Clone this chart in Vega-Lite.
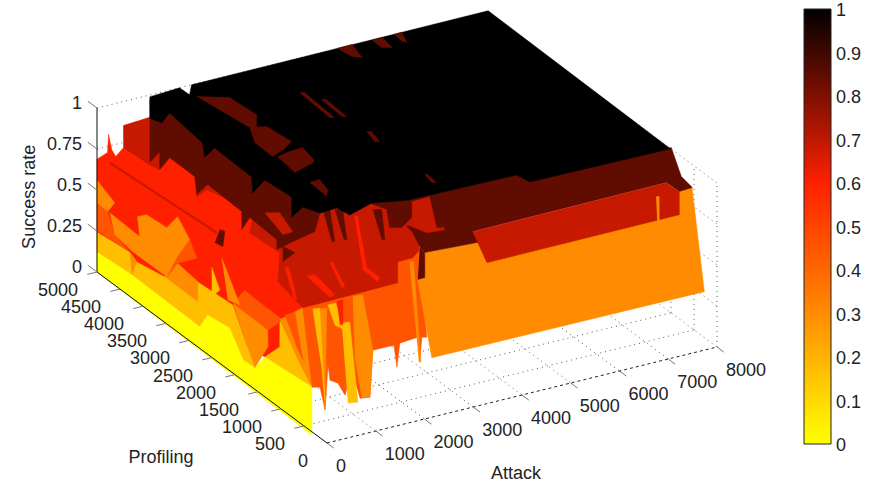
{"$schema":"https://vega.github.io/schema/vega-lite/v6.json","width":875,"height":484,"autosize":{"type":"fit","contains":"padding"},"padding":0,"background":"white","config":{"view":{"stroke":null},"font":"Liberation Sans"},
"encoding":{"x":{"field":"px","type":"quantitative","axis":null,"scale":{"domain":[0,875],"zero":false,"nice":false}},"y":{"field":"py","type":"quantitative","axis":null,"scale":{"domain":[484,0],"zero":false,"nice":false}}},
"layer":[
{"data":{"values":[
{"id":"a1","attack":[1000,1000],"profiling":[0,5000],"rate":[0,0]},{"id":"a2","attack":[2000,2000],"profiling":[0,5000],"rate":[0,0]},{"id":"a3","attack":[3000,3000],"profiling":[0,5000],"rate":[0,0]},{"id":"a4","attack":[4000,4000],"profiling":[0,5000],"rate":[0,0]},{"id":"a5","attack":[5000,5000],"profiling":[0,5000],"rate":[0,0]},{"id":"a6","attack":[6000,6000],"profiling":[0,5000],"rate":[0,0]},{"id":"a7","attack":[7000,7000],"profiling":[0,5000],"rate":[0,0]},{"id":"a8","attack":[8000,8000],"profiling":[0,5000],"rate":[0,0]},
{"id":"p1","attack":[0,8000],"profiling":[500,500],"rate":[0,0]},{"id":"p2","attack":[0,8000],"profiling":[1000,1000],"rate":[0,0]},{"id":"p3","attack":[0,8000],"profiling":[1500,1500],"rate":[0,0]},{"id":"p4","attack":[0,8000],"profiling":[2000,2000],"rate":[0,0]},{"id":"p5","attack":[0,8000],"profiling":[2500,2500],"rate":[0,0]},{"id":"p6","attack":[0,8000],"profiling":[3000,3000],"rate":[0,0]},
{"id":"v0","attack":[8000,8000],"profiling":[0,0],"rate":[0,1]},{"id":"v1","attack":[8000,8000],"profiling":[500,500],"rate":[0,1]},{"id":"v2","attack":[8000,8000],"profiling":[1000,1000],"rate":[0,1]},
{"id":"h1","attack":[8000,8000],"profiling":[0,5000],"rate":[0.25,0.25]},{"id":"h2","attack":[8000,8000],"profiling":[0,5000],"rate":[0.5,0.5]},{"id":"h3","attack":[8000,8000],"profiling":[0,5000],"rate":[0.75,0.75]},{"id":"h4","attack":[8000,8000],"profiling":[0,5000],"rate":[1,1]},
{"id":"b1","attack":[0,8000],"profiling":[5000,5000],"rate":[0.25,0.25]},{"id":"b2","attack":[0,8000],"profiling":[5000,5000],"rate":[0.5,0.5]},{"id":"b3","attack":[0,8000],"profiling":[5000,5000],"rate":[0.75,0.75]},{"id":"b4","attack":[0,8000],"profiling":[5000,5000],"rate":[1,1]}
]},
"transform":[{"flatten":["attack","profiling","rate"]},{"calculate":"327+0.04875*datum.attack-0.046*datum.profiling","as":"px"},{"calculate":"443-0.012*datum.attack-0.0342*datum.profiling-164*datum.rate","as":"py"}],
"mark":{"type":"line","stroke":"#333333","strokeWidth":1,"strokeDash":[1,4],"opacity":0.8},"encoding":{"detail":{"field":"id","type":"nominal"}}},

{"data":{"values":[
{"id":1,"rate":0.6,"attack":[288,601,990,726,643,952,1407,1973,2995,2366,386,-1100,-1617],"profiling":[5312,5407,5797,5451,5275,5430,5914,5950,2900,926,889,-843,3288]},
{"id":2,"rate":0.17,"attack":[246,340,241,362,836,766,829,290,-136,-155,307,237,-134,-105,-168],"profiling":[5268,4650,4392,3911,4154,3623,2928,2093,1423,1664,2438,2843,2622,4133,4828]},
{"id":3,"rate":0.17,"attack":[246,684,1243,723,349],"profiling":[1611,1750,2344,1356,697]},
{"id":4,"rate":0,"attack":[412,475,445,817,887,424,444,825,928,-65,-2],"profiling":[5444,4749,3238,3459,3054,2280,2039,2227,1313,257,5004]},
{"id":5,"rate":0.3,"attack":[888,689,394,412],"profiling":[5950,5347,5187,5444]},
{"id":6,"rate":0.45,"attack":[-106,-123,-491,-612,-665],"profiling":[4894,4637,4093,3638,4300]},
{"id":7,"rate":0.3,"attack":[405,370,753,933,972,1369,1078,541,-42,-49,26],"profiling":[5154,4464,4915,4910,4516,4699,4128,3819,3438,4172,4643]},
{"id":8,"rate":0.3,"attack":[-115,-194,-540],"profiling":[4166,3930,3671]},
{"id":9,"rate":0.3,"attack":[-73,402,331,-83],"profiling":[3449,3692,3161,2721]},
{"id":10,"rate":0.45,"attack":[-560,23,560,296,-101],"profiling":[2888,3269,3578,3144,3137]},
{"id":11,"rate":0.3,"attack":[436,416,64,-571,-145],"profiling":[2510,1727,1353,961,1631]},
{"id":12,"rate":0.45,"attack":[-82,372,350,336,-102],"profiling":[1960,2181,1896,1316,1177]},
{"id":13,"rate":0.17,"attack":[1293,940,672],"profiling":[3877,3328,3217]},
{"id":14,"rate":0.3,"attack":[1198,502,421],"profiling":[3559,2428,2603]},
{"id":15,"rate":0.3,"attack":[808,1410,-86,257],"profiling":[1882,2022,235,905]},
{"id":16,"rate":0.45,"attack":[471,687,-184,20],"profiling":[1415,1427,328,695]},
{"id":17,"rate":0.45,"attack":[893,3391,3895,2202,2125,1577,2063,1662,1119,1529,1101,82,-92,364,-261,-121,-182,98,-880,-481,-604],"profiling":[1472,2059,2116,164,191,-348,213,178,-334,166,170,-848,-816,-157,-669,-367,-258,83,-891,-358,-315]},
{"id":18,"rate":0.3,"attack":[1600,1780,-362,228],"profiling":[1897,1892,-341,330]},
{"id":19,"rate":0.3,"attack":[2408,2603,1619,600,456,1197],"profiling":[1994,1984,720,-298,-277,663]},
{"id":20,"rate":0.17,"attack":[2135,2279,746,571],"profiling":[1943,1922,119,151]},
{"id":21,"rate":0.17,"attack":[1978,2107,280,855],"profiling":[2408,2392,341,1017]},
{"id":22,"rate":0.17,"attack":[2292,2457,2037,1986],"profiling":[2415,2415,1773,1937]},
{"id":23,"rate":0.6,"attack":[1044,1178,660,614],"profiling":[892,904,354,370]},
{"id":24,"rate":0.3,"attack":[4010,4072,2110,2079],"profiling":[2456,2434,196,207]},
{"id":25,"rate":0.3,"attack":[4428,5548,5176,9141,9659,9900,7932,2362,3761],"profiling":[2573,2502,2018,2032,2582,2556,203,225,2017]},
{"id":26,"rate":0.69,"attack":[1097,1662,2788,4000,3088,2814,2501,2066,85,239,870,822,1178,1293,1050,751,1165,1142,740,690,641],"profiling":[5584,5620,2680,2401,1258,1120,1113,651,614,1321,1948,2550,2864,3116,3728,3628,4068,4632,4422,4586,5100]},
{"id":27,"rate":0.69,"attack":[136,335,293,94],"profiling":[4868,2750,2706,4824]},
{"id":50,"rate":0.6,"attack":[3081,3127,2210,2203,2089,2107],"profiling":[2665,2649,1478,1188,1111,1456]},
{"id":51,"rate":0.6,"attack":[1743,1789,1478,1411],"profiling":[1788,1772,1179,1173]},
{"id":52,"rate":0.6,"attack":[1100,1264,1158,1019],"profiling":[1604,1605,1057,1018]},
{"id":53,"rate":0.6,"attack":[947,1009,470,424],"profiling":[1921,1899,1152,1168]},
{"id":54,"rate":0.85,"attack":[1884,1992,1406,1360],"profiling":[2090,2052,1321,1337]},
{"id":55,"rate":0.85,"attack":[2069,2192,1633,1587],"profiling":[2025,1982,1300,1316]},
{"id":56,"rate":0.85,"attack":[2654,2793,2218,2172],"profiling":[1820,1771,1095,1111]},
{"id":28,"rate":0.85,"attack":[2826,2986,2927,2741],"profiling":[1262,1323,934,824]},
{"id":29,"rate":0.85,"attack":[3462,5596,5651,8542,8096,8037,7754,7741,3738,3685,2565,2612,2872],"profiling":[1829,1812,1588,1569,877,576,558,826,796,522,593,752,1246]},
{"id":30,"rate":0.69,"attack":[4277,8279,8293,7817,3851],"profiling":[1368,1398,1130,624,610]},
{"id":31,"rate":0.3,"attack":[9160,9206,8688,8657],"profiling":[2552,2536,1986,1997]},
{"id":32,"rate":0.69,"attack":[3959,4339,3887,3548,3421],"profiling":[2357,2370,1563,1594,1873]},
{"id":33,"rate":0.85,"attack":[3801,3965,3359,3267],"profiling":[1798,1799,1046,1078]},
{"id":34,"rate":0.85,"attack":[2612,2565,2047,1898],"profiling":[752,593,43,37]},
{"id":57,"rate":0.85,"attack":[2732,3524,3089,2728,2543,2870],"profiling":[1968,1895,1433,1267,1332,1744]},
{"id":35,"rate":0.85,"attack":[1497,3388,2229,1755,1305,759,605,348,555,594,223,595,630,254,596,604,202,574,193],"profiling":[5444,3318,2086,2018,1649,1548,1514,1458,1678,2308,2087,2483,3261,3100,3507,4060,3850,4246,4058]},
{"id":58,"rate":0.69,"attack":[1467,1698,1505,1289],"profiling":[2909,2828,2340,2328]},
{"id":36,"rate":0.85,"attack":[502,563,191],"profiling":[1492,1295,1162]},
{"id":37,"rate":0.85,"attack":[-116,-81,-422,-462],"profiling":[2206,2135,1816,1947]},
{"id":38,"rate":1,"attack":[1041,1690,1699,1937,8043,7989,5134,5079,2913,2266,1679,1624,1258,1120,744,1158,1094,640,956,987,646,905,1018,688,607],"profiling":[4960,4996,4788,4997,5021,1002,1038,1262,1290,1429,1284,1508,1490,1714,1553,1993,2513,2292,2649,3487,3343,3662,4500,4323,4498]},
{"id":39,"rate":0.85,"attack":[2283,2770,2834,2565,2457],"profiling":[5256,5056,4536,4250,4288]},
{"id":40,"rate":0.85,"attack":[2457,2740,2814,2526,2211,2224],"profiling":[4288,4218,3753,3620,3526,3931]},
{"id":41,"rate":0.85,"attack":[2510,2859,2781,2719,2219,2288],"profiling":[3538,3562,3238,3172,3055,3499]},
{"id":42,"rate":0.85,"attack":[2243,2459,2375,2215],"profiling":[2754,2766,2503,2354]},
{"id":43,"rate":0.85,"attack":[5448,5761,5646,5498],"profiling":[5551,5558,5218,5299]},
{"id":44,"rate":0.85,"attack":[6152,6368,6315,6146],"profiling":[5538,5550,5276,5335]},
{"id":45,"rate":0.85,"attack":[6615,6765,6650,6593],"profiling":[5551,5557,5305,5354]},
{"id":46,"rate":0.85,"attack":[3952,4029,3973,3896],"profiling":[4788,4761,4049,4076]},
{"id":47,"rate":0.85,"attack":[4146,4223,4179,4102],"profiling":[4515,4488,4006,4033]},
{"id":48,"rate":0.85,"attack":[4176,4253,4169,4092],"profiling":[3568,3541,3278,3305]},
{"id":49,"rate":0.85,"attack":[4179,4225,4199,4122],"profiling":[2309,2293,2068,2095]}
]},
"transform":[{"flatten":["attack","profiling"]},{"window":[{"op":"row_number","as":"n"}],"groupby":["id"]},{"calculate":"327+0.04875*datum.attack-0.046*datum.profiling","as":"px"},{"calculate":"443-0.012*datum.attack-0.0342*datum.profiling-164*datum.rate","as":"py"}],
"mark":{"type":"line","strokeWidth":0.5,"fillOpacity":1},
"encoding":{"detail":{"field":"id","type":"nominal"},"order":{"field":"n","type":"quantitative"},
"fill":{"field":"rate","type":"quantitative","scale":{"domain":[0,0.33,0.6,1],"range":["#ffff00","#ff8000","#ff2000","#000000"],"interpolate":"rgb","nice":false,"zero":false},"legend":{"orient":"none","legendX":804,"legendY":9,"title":null,"direction":"vertical","gradientLength":435,"gradientThickness":27,"values":[0,0.1,0.2,0.3,0.4,0.5,0.6,0.7,0.8,0.9,1],"format":"~g","labelFontSize":18,"labelColor":"#222222","labelFont":"Liberation Sans","labelOffset":5,"labelOverlap":false,"gradientStrokeColor":"#222222","gradientStrokeWidth":1,"encode":{"labels":{"update":{"baseline":{"value":"middle"},"dy":{"value":2}}}}}},
"stroke":{"field":"rate","type":"quantitative","scale":{"domain":[0,0.33,0.6,1],"range":["#ffff00","#ff8000","#ff2000","#000000"],"interpolate":"rgb","nice":false,"zero":false},"legend":null}}},

{"data":{"values":[
{"id":"zaxis","kind":"solid","attack":[0,0],"profiling":[5000,5000],"rate":[0,1]},
{"id":"paxis","kind":"solid","attack":[0,0],"profiling":[0,5000],"rate":[0,0]},
{"id":"z0","kind":"tick","attack":[0,0],"profiling":[5000,5200],"rate":[0,0]},{"id":"z1","kind":"tick","attack":[0,0],"profiling":[5000,5200],"rate":[0.25,0.25]},{"id":"z2","kind":"tick","attack":[0,0],"profiling":[5000,5200],"rate":[0.5,0.5]},{"id":"z3","kind":"tick","attack":[0,0],"profiling":[5000,5200],"rate":[0.75,0.75]},{"id":"z4","kind":"tick","attack":[0,0],"profiling":[5000,5200],"rate":[1,1]},
{"id":"t0","kind":"tick","attack":[0,0],"profiling":[0,-150],"rate":[0,0]},{"id":"t1","kind":"tick","attack":[1000,1000],"profiling":[0,-150],"rate":[0,0]},{"id":"t2","kind":"tick","attack":[2000,2000],"profiling":[0,-150],"rate":[0,0]},{"id":"t3","kind":"tick","attack":[3000,3000],"profiling":[0,-150],"rate":[0,0]},{"id":"t4","kind":"tick","attack":[4000,4000],"profiling":[0,-150],"rate":[0,0]},{"id":"t5","kind":"tick","attack":[5000,5000],"profiling":[0,-150],"rate":[0,0]},{"id":"t6","kind":"tick","attack":[6000,6000],"profiling":[0,-150],"rate":[0,0]},{"id":"t7","kind":"tick","attack":[7000,7000],"profiling":[0,-150],"rate":[0,0]},{"id":"t8","kind":"tick","attack":[8000,8000],"profiling":[0,-150],"rate":[0,0]},
{"id":"q1","kind":"tick","attack":[0,-200],"profiling":[500,500],"rate":[0,0]},{"id":"q2","kind":"tick","attack":[0,-200],"profiling":[1000,1000],"rate":[0,0]},{"id":"q3","kind":"tick","attack":[0,-200],"profiling":[1500,1500],"rate":[0,0]},{"id":"q4","kind":"tick","attack":[0,-200],"profiling":[2000,2000],"rate":[0,0]},{"id":"q5","kind":"tick","attack":[0,-200],"profiling":[2500,2500],"rate":[0,0]},{"id":"q6","kind":"tick","attack":[0,-200],"profiling":[3000,3000],"rate":[0,0]},{"id":"q7","kind":"tick","attack":[0,-200],"profiling":[3500,3500],"rate":[0,0]},{"id":"q8","kind":"tick","attack":[0,-200],"profiling":[4000,4000],"rate":[0,0]},{"id":"q9","kind":"tick","attack":[0,-200],"profiling":[4500,4500],"rate":[0,0]},{"id":"q10","kind":"tick","attack":[0,-200],"profiling":[5000,5000],"rate":[0,0]}
]},
"transform":[{"flatten":["attack","profiling","rate"]},{"calculate":"327+0.04875*datum.attack-0.046*datum.profiling","as":"px"},{"calculate":"443-0.012*datum.attack-0.0342*datum.profiling-164*datum.rate","as":"py"}],
"mark":{"type":"line","strokeWidth":1},"encoding":{"detail":{"field":"id","type":"nominal"},"stroke":{"field":"kind","type":"nominal","scale":{"domain":["solid","tick"],"range":["#111111","#777777"]},"legend":null}}},

{"data":{"values":[{"id":"aaxis","attack":[0,8000],"profiling":[0,0],"rate":[0,0]}]},
"transform":[{"flatten":["attack","profiling","rate"]},{"calculate":"327+0.04875*datum.attack-0.046*datum.profiling","as":"px"},{"calculate":"443-0.012*datum.attack-0.0342*datum.profiling-164*datum.rate","as":"py"}],
"mark":{"type":"line","stroke":"#222222","strokeWidth":1,"strokeDash":[3,3]},"encoding":{"detail":{"field":"id","type":"nominal"}}},

{"data":{"values":[{"text":"0","attack":0},{"text":"1000","attack":1000},{"text":"2000","attack":2000},{"text":"3000","attack":3000},{"text":"4000","attack":4000},{"text":"5000","attack":5000},{"text":"6000","attack":6000},{"text":"7000","attack":7000},{"text":"8000","attack":8000}]},
"transform":[{"calculate":"327+0.04875*datum.attack","as":"px"},{"calculate":"443-0.012*datum.attack","as":"py"}],
"mark":{"type":"text","align":"left","baseline":"middle","dx":9,"dy":24,"fontSize":18,"color":"#222222"},"encoding":{"text":{"field":"text","type":"nominal"}}},

{"data":{"values":[{"text":"0","profiling":0},{"text":"500","profiling":500},{"text":"1000","profiling":1000},{"text":"1500","profiling":1500},{"text":"2000","profiling":2000},{"text":"2500","profiling":2500},{"text":"3000","profiling":3000},{"text":"3500","profiling":3500},{"text":"4000","profiling":4000},{"text":"4500","profiling":4500},{"text":"5000","profiling":5000}]},
"transform":[{"calculate":"327-0.046*datum.profiling","as":"px"},{"calculate":"443-0.0342*datum.profiling","as":"py"}],
"mark":{"type":"text","align":"right","baseline":"middle","dx":-19,"dy":19,"fontSize":18,"color":"#222222"},"encoding":{"text":{"field":"text","type":"nominal"}}},

{"data":{"values":[{"text":"0","rate":0},{"text":"0.25","rate":0.25},{"text":"0.5","rate":0.5},{"text":"0.75","rate":0.75},{"text":"1","rate":1}]},
"transform":[{"calculate":"97","as":"px"},{"calculate":"272-164*datum.rate","as":"py"}],
"mark":{"type":"text","align":"right","baseline":"middle","dx":-15,"dy":-4,"fontSize":18,"color":"#222222"},"encoding":{"text":{"field":"text","type":"nominal"}}},

{"data":{"values":[{"text":"Attack","attack":2270,"profiling":-1703,"rate":0},{"text":"Profiling","attack":-2869,"profiling":568,"rate":0}]},
"transform":[{"calculate":"327+0.04875*datum.attack-0.046*datum.profiling","as":"px"},{"calculate":"443-0.012*datum.attack-0.0342*datum.profiling-164*datum.rate","as":"py"}],
"mark":{"type":"text","align":"center","baseline":"middle","fontSize":18,"color":"#222222"},"encoding":{"text":{"field":"text","type":"nominal"}}},

{"data":{"values":[{"text":"Success rate","attack":-1074,"profiling":5320,"rate":0.47}]},
"transform":[{"calculate":"327+0.04875*datum.attack-0.046*datum.profiling","as":"px"},{"calculate":"443-0.012*datum.attack-0.0342*datum.profiling-164*datum.rate","as":"py"}],
"mark":{"type":"text","align":"center","baseline":"middle","fontSize":18,"angle":270,"color":"#222222"},"encoding":{"text":{"field":"text","type":"nominal"}}}
]}
